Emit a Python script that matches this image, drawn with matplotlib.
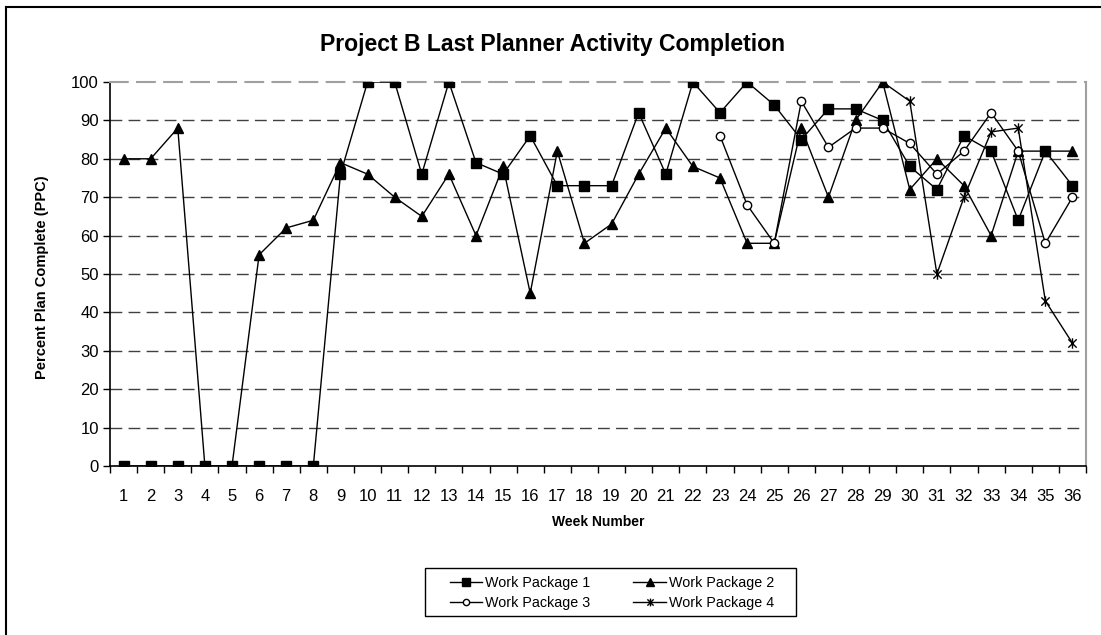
import matplotlib
matplotlib.use("Agg")
import matplotlib.pyplot as plt
import numpy as np
from matplotlib.path import Path
from matplotlib.lines import Line2D
from matplotlib.patches import Rectangle

weeks = list(range(1, 37))
wp1 = [0, 0, 0, 0, 0, 0, 0, 0, 76, 100, 100, 76, 100, 79, 76, 86, 73, 73, 73, 92,
       76, 100, 92, 100, 94, 85, 93, 93, 90, 78, 72, 86, 82, 64, 82, 73]
wp2 = [80, 80, 88, 0, 0, 55, 62, 64, 79, 76, 70, 65, 76, 60, 78, 45, 82, 58, 63, 76,
       88, 78, 75, 58, 58, 88, 70, 90, 100, 72, 80, 73, 60, 82, 82, 82]
wp3_weeks = list(range(23, 37))
wp3 = [86, 68, 58, 95, 83, 88, 88, 84, 76, 82, 92, 82, 58, 70]
wp4_weeks = list(range(29, 37))
wp4 = [100, 95, 50, 70, 87, 88, 43, 32]
series_names = ["Work Package 1", "Work Package 2", "Work Package 3", "Work Package 4"]
yticks = list(range(0, 101, 10))

plt.rcParams['font.family'] = ['Liberation Sans', 'DejaVu Sans']

fig = plt.figure(figsize=(11.01, 6.35), dpi=100)
W, H = 1101, 635
ax = fig.add_axes([110 / W, 1 - 466 / H, (1086 - 110) / W, (466 - 82) / H])

star = Path([(-1, -1), (1, 1), (-1, 1), (1, -1), (0, -1.25), (0, 1.25)],
            [Path.MOVETO, Path.LINETO, Path.MOVETO, Path.LINETO, Path.MOVETO, Path.LINETO])

lw = 1.0
h1, = ax.plot(weeks, wp1, color='black', lw=lw, marker='s', ms=6.8, mfc='black', mec='black',
              label=series_names[0], zorder=3)
h2, = ax.plot(weeks, wp2, color='black', lw=lw, marker='^', ms=7.2, mfc='black', mec='black',
              label=series_names[1], zorder=4)
h3, = ax.plot(wp3_weeks, wp3, color='black', lw=lw, marker='o', ms=6, mfc='white', mec='black',
              mew=1.0, label=series_names[2], zorder=5)
h4, = ax.plot(wp4_weeks, wp4, color='black', lw=lw, marker=star, ms=7.5, mec='black', mew=1.0,
              label=series_names[3], zorder=6)

ax.set_xlim(0.5, 36.5)
ax.set_ylim(0, 100)
ax.set_yticks(yticks)
ax.set_yticklabels([str(v) for v in yticks])
ax.set_xticks(weeks)
ax.set_xticklabels([str(w) for w in weeks])
ax.set_xticks(np.arange(0.5, 37, 1), minor=True)
ax.tick_params(axis='x', which='major', length=0, pad=16.5, labelsize=12)
ax.tick_params(axis='x', which='minor', length=5, width=1, color='black', direction='out')
ax.tick_params(axis='y', which='major', length=5, width=1, direction='out', labelsize=12, pad=3)

for v in yticks[1:-1]:
    ax.axhline(v, color='#404040', lw=1, ls=(0, (8.5, 4.5)), zorder=1)

for s in ['top', 'right']:
    ax.spines[s].set_color('#a0a0a0')
    ax.spines[s].set_linewidth(1.5)
for s in ['left', 'bottom']:
    ax.spines[s].set_color('black')
    ax.spines[s].set_linewidth(1.2)
ax.spines['top'].set_linestyle((0, (8.5, 4.5)))

fig.text(552 / W, 1 - 44 / H, "Project B Last Planner Activity Completion",
         ha='center', va='center', fontsize=16.6, fontweight='bold')
fig.text(598 / W, 1 - 522 / H, "Week Number", ha='center', va='center',
         fontsize=10, fontweight='bold')
fig.text(42 / W, 1 - 277 / H, "Percent Plan Complete (PPC)", ha='center', va='center',
         rotation=90, fontsize=10.5, fontweight='bold')

# legend frame drawn manually, entries laid out row-wise
fig.add_artist(Rectangle((425 / W, 1 - 616 / H), (796 - 425) / W, (616 - 568) / H,
                         transform=fig.transFigure, fill=False, edgecolor='black', lw=1.0))
leg = fig.legend([h1, h3, h2, h4], [series_names[0], series_names[2], series_names[1], series_names[3]],
                 loc='center', bbox_to_anchor=(612 / W, 1 - 593 / H),
                 ncol=2, frameon=False, fontsize=10.3,
                 handlelength=2.3, handletextpad=0.2, columnspacing=3.0, labelspacing=0.45,
                 borderpad=0.0, markerscale=0.75)

# outer chart frame (top and left visible)
fig.add_artist(Line2D([6 / W, 1.0], [1 - 7 / H, 1 - 7 / H], transform=fig.transFigure,
                      color='black', lw=1.5))
fig.add_artist(Line2D([6 / W, 6 / W], [0, 1 - 7 / H], transform=fig.transFigure,
                      color='black', lw=1.5))

fig.savefig("out.png", dpi=100)
